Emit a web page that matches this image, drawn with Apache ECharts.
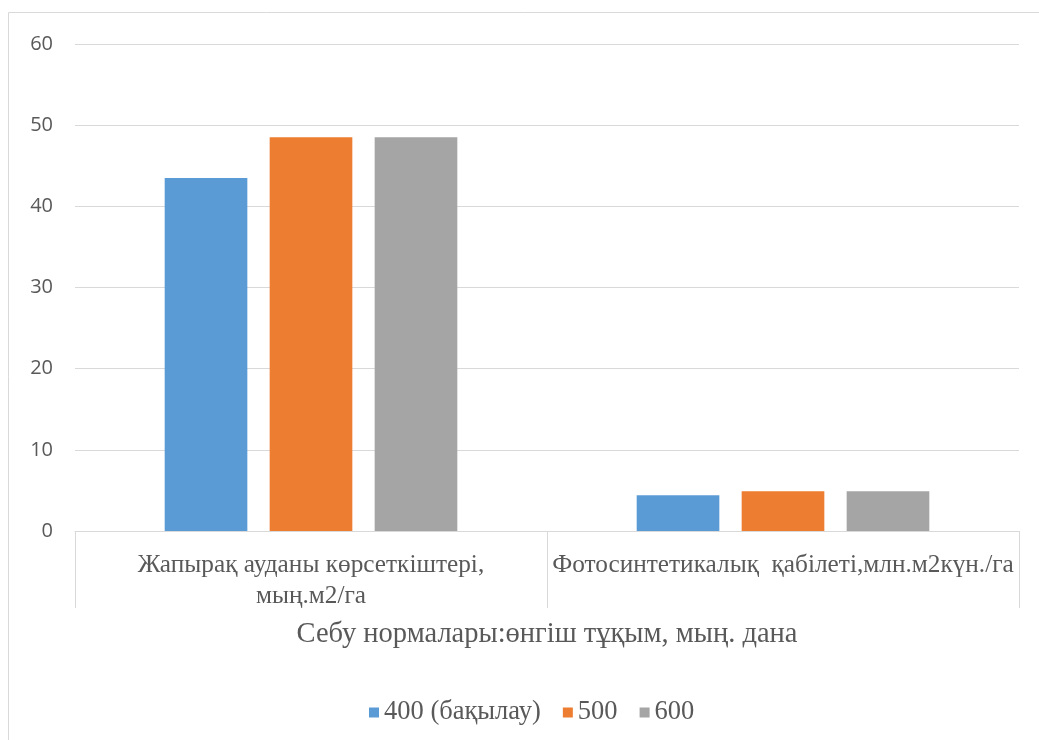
<!DOCTYPE html>
<html>
<head>
<meta charset="utf-8">
<script src="https://cdn.jsdelivr.net/npm/echarts@6/dist/echarts.min.js"></script>
<style>
  html, body { margin: 0; padding: 0; background: #fff; }
  #chart { width: 1039px; height: 740px; }
</style>
</head>
<body>
<div id="chart"></div>
<script>
// Categories and values per sowing rate
const categories = [
  'Жапырақ ауданы көрсеткіштері,\nмың.м2/га',
  'Фотосинтетикалық  қабілеті,млн.м2күн./га'
];
const seriesNames = ['400 (бақылау)', '500', '600'];
const values400 = [43.5, 4.4];
const values500 = [48.5, 4.9];
const values600 = [48.5, 4.9];
const yTicks = { min: 0, max: 60, interval: 10 };
const axisTitle = 'Себу нормалары:өнгіш тұқым, мың. дана';

const colors = ['#5b9bd5', '#ed7d31', '#a5a5a5'];
const serif = '"Liberation Serif", "DejaVu Serif", serif';
const sans = '"Open Sans", "Liberation Sans", sans-serif';
const textColor = '#595959';

const chart = echarts.init(document.getElementById('chart'), null, { renderer: 'canvas' });

const seriesData = [values400, values500, values600];

chart.setOption({
  animation: false,
  backgroundColor: '#fff',
  color: colors,
  grid: { left: 75, right: 20, top: 44, bottom: 209, containLabel: false },
  legend: {
    data: seriesNames,
    top: 694,
    left: 364,
    icon: 'rect',
    itemWidth: 10,
    itemHeight: 10,
    itemGap: 22,
    textStyle: { fontFamily: serif, fontSize: 26.5, color: textColor }
  },
  xAxis: {
    type: 'category',
    data: categories,
    name: axisTitle,
    nameLocation: 'middle',
    nameGap: 89,
    nameTextStyle: { fontFamily: serif, fontSize: 28.5, color: textColor },
    axisLine: { show: true, lineStyle: { color: '#d9d9d9', width: 1 } },
    axisTick: { show: true, length: 77, lineStyle: { color: '#d9d9d9', width: 1 } },
    axisLabel: {
      margin: 19,
      fontFamily: serif,
      fontSize: 25.3,
      lineHeight: 31,
      color: textColor,
      verticalAlign: 'top',
      interval: 0
    }
  },
  yAxis: {
    type: 'value',
    min: yTicks.min,
    max: yTicks.max,
    interval: yTicks.interval,
    axisLine: { show: false },
    axisTick: { show: false },
    axisLabel: { margin: 22, fontFamily: sans, fontSize: 20, color: textColor },
    splitLine: { lineStyle: { color: '#d9d9d9', width: 1 } }
  },
  series: seriesNames.map((name, i) => ({
    name: name,
    type: 'bar',
    data: seriesData[i],
    barGap: '27%',
    barCategoryGap: '38%',
    itemStyle: { color: colors[i] }
  })),
  graphic: [{
    type: 'rect',
    shape: { x: 8.5, y: 12.5, width: 1040, height: 740 },
    style: { fill: 'none', stroke: '#d9d9d9', lineWidth: 1 },
    silent: true,
    z: -1
  }]
});
</script>
</body>
</html>
